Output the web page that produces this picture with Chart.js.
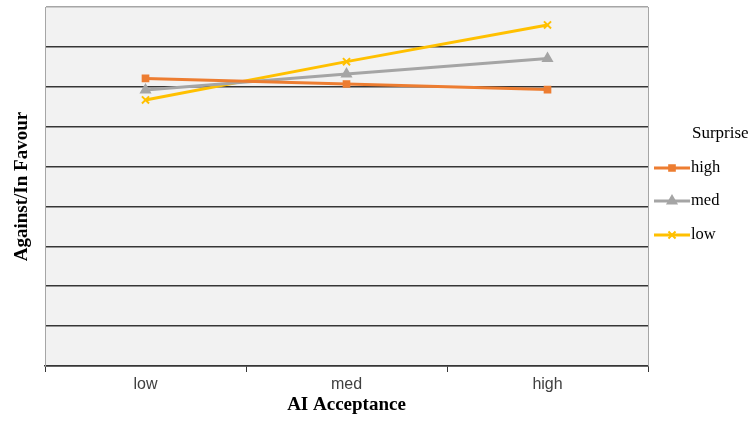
<!DOCTYPE html>
<html>
<head>
<meta charset="utf-8">
<script src="https://cdn.jsdelivr.net/npm/chart.js@4/dist/chart.umd.min.js"></script>
<style>
  html, body { margin: 0; padding: 0; background: #ffffff; }
  canvas { display: block; }
</style>
</head>
<body>
<canvas id="chart" width="756" height="421"></canvas>
<script>
// Categories on the x axis (AI Acceptance levels)
const categories = ['low', 'med', 'high'];

// Series, one per Surprise level
const seriesNames = ['high', 'med', 'low'];
const surpriseHigh = [7.21, 7.07, 6.93];
const surpriseMed  = [6.92, 7.32, 7.71];
const surpriseLow  = [6.67, 7.63, 8.55];

// Hidden value scale for Against/In Favour
const yMin = 0;
const yMax = 9;

const SERIF = '"Liberation Serif", "Times New Roman", serif';
const SANS = '"Liberation Sans", Arial, sans-serif';
const GRID_DARK = '#363636';
const FRAME_GRAY = '#a6a6a6';

// Plot background and right-hand frame edge
const plotFrame = {
  id: 'plotFrame',
  beforeDraw(chart) {
    const { ctx, chartArea: a } = chart;
    ctx.save();
    ctx.fillStyle = '#f2f2f2';
    ctx.fillRect(a.left, a.top, a.right - a.left, a.bottom - a.top);
    ctx.restore();
  },
  afterDraw(chart) {
    const { ctx, chartArea: a } = chart;
    ctx.save();
    ctx.strokeStyle = FRAME_GRAY;
    ctx.lineWidth = 1;
    ctx.beginPath();
    ctx.moveTo(a.right + 0.5, a.top);
    ctx.lineTo(a.right + 0.5, a.bottom);
    ctx.stroke();
    ctx.restore();
  }
};

// Legend with a title and line-plus-marker samples
const sideLegend = {
  id: 'sideLegend',
  afterDraw(chart) {
    const { ctx, chartArea: a } = chart;
    const x0 = a.right + 6;
    ctx.save();
    ctx.textBaseline = 'middle';
    ctx.textAlign = 'left';
    ctx.fillStyle = '#000000';
    ctx.font = '17px ' + SERIF;
    ctx.fillText('Surprise', x0 + 38, 134);
    const rowsY = [168, 201, 235];
    chart.data.datasets.forEach((ds, i) => {
      const y = rowsY[i];
      ctx.strokeStyle = ds.borderColor;
      ctx.lineWidth = 3;
      ctx.beginPath();
      ctx.moveTo(x0, y);
      ctx.lineTo(x0 + 36, y);
      ctx.stroke();
      ctx.fillStyle = ds.pointBackgroundColor;
      ctx.strokeStyle = ds.pointBorderColor;
      ctx.lineWidth = 2;
      Chart.helpers.drawPoint(ctx, {
        pointStyle: ds.pointStyle,
        radius: ds.pointRadius,
        borderWidth: 2
      }, x0 + 18, y);
      ctx.fillStyle = '#000000';
      ctx.font = '16.5px ' + SERIF;
      ctx.fillText(ds.label, x0 + 37, y);
    });
    ctx.restore();
  }
};

function makeSeries(label, values, color, style, radius) {
  return {
    label: label,
    data: values,
    borderColor: color,
    backgroundColor: color,
    pointBackgroundColor: color,
    pointBorderColor: color,
    pointStyle: style,
    pointRadius: radius,
    pointBorderWidth: 2,
    borderWidth: 3,
    tension: 0,
    fill: false
  };
}

new Chart(document.getElementById('chart'), {
  type: 'line',
  data: {
    labels: categories,
    datasets: [
      makeSeries(seriesNames[0], surpriseHigh, '#ed7d31', 'rect', 4),
      makeSeries(seriesNames[1], surpriseMed, '#a5a5a5', 'triangle', 5),
      makeSeries(seriesNames[2], surpriseLow, '#ffc000', 'crossRot', 5)
    ]
  },
  options: {
    responsive: false,
    animation: false,
    devicePixelRatio: 1,
    layout: { padding: { left: 0, right: 108, top: 7, bottom: 0 } },
    plugins: {
      legend: { display: false },
      tooltip: { enabled: false }
    },
    scales: {
      x: {
        offset: true,
        afterFit(scale) { scale.height = 55; },
        grid: {
          offset: true,
          drawOnChartArea: false,
          drawTicks: true,
          tickLength: 6,
          color: GRID_DARK,
          lineWidth: 1
        },
        border: { display: true, color: GRID_DARK, width: 1.5 },
        ticks: {
          padding: 3,
          color: '#404040',
          font: { family: SANS, size: 16 }
        },
        title: {
          display: true,
          text: 'AI Acceptance',
          color: '#000000',
          font: { family: SERIF, size: 19, weight: 'bold' },
          padding: { top: 0, bottom: 5 }
        }
      },
      y: {
        min: yMin,
        max: yMax,
        afterFit(scale) { scale.width = 45; },
        ticks: { display: false, stepSize: 1 },
        grid: {
          drawTicks: false,
          color: (c) => (c.tick && c.tick.value === yMax ? FRAME_GRAY : GRID_DARK),
          lineWidth: 1.5
        },
        border: { display: true, color: FRAME_GRAY, width: 1 },
        title: {
          display: true,
          text: 'Against/In Favour',
          color: '#000000',
          font: { family: SERIF, size: 19, weight: 'bold' },
          padding: { top: 11, bottom: 0 }
        }
      }
    }
  },
  plugins: [plotFrame, sideLegend]
});
</script>
</body>
</html>
